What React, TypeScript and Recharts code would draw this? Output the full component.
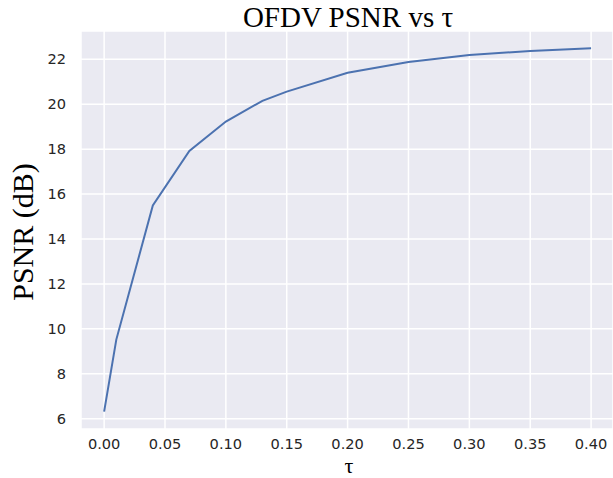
import { LineChart, Line, XAxis, YAxis, CartesianGrid } from "recharts";

const tau = [0, 0.01, 0.04, 0.07, 0.1, 0.13, 0.15, 0.2, 0.25, 0.3, 0.35, 0.4];
const psnr = [6.31, 9.52, 15.49, 17.92, 19.23, 20.15, 20.56, 21.4, 21.88, 22.19, 22.37, 22.49];
const xTicks = [0, 0.05, 0.1, 0.15, 0.2, 0.25, 0.3, 0.35, 0.4];
const yTicks = [6, 8, 10, 12, 14, 16, 18, 20, 22];

const data = tau.map((t, i) => ({ tau: t, psnr: psnr[i] }));

const tickStyle = {
  fontFamily: "DejaVu Sans",
  fontSize: 14.6,
  fill: "#262626",
};

const serif = "'Liberation Serif', 'DejaVu Serif', serif";

export default function App() {
  return (
    <div style={{ position: "absolute", left: 0, top: 0, width: 613, height: 478, background: "#fff", overflow: "hidden" }}>
      <LineChart
        width={613}
        height={478}
        data={data}
        margin={{ top: 31, right: 0, bottom: 0, left: 0 }}
      >
        <CartesianGrid stroke="#ffffff" strokeWidth={1.5} fill="#EAEAF2" />
        <XAxis
          dataKey="tau"
          type="number"
          domain={[-0.019, 0.418]}
          ticks={xTicks}
          tickFormatter={(v: number) => v.toFixed(2)}
          allowDataOverflow
          axisLine={false}
          tickLine={false}
          tickSize={6}
          tickMargin={4}
          height={49}
          tick={tickStyle}
        />
        <YAxis
          type="number"
          domain={[5.54, 23.26]}
          ticks={yTicks}
          allowDataOverflow
          axisLine={false}
          tickLine={false}
          tickSize={6}
          tickMargin={9}
          width={81}
          tick={tickStyle}
        />
        <Line
          type="linear"
          dataKey="psnr"
          stroke="#4C72B0"
          strokeWidth={2}
          dot={false}
          isAnimationActive={false}
        />
      </LineChart>
      <div
        style={{
          position: "absolute",
          left: 148,
          width: 400,
          top: 2.5,
          textAlign: "center",
          fontFamily: serif,
          fontSize: 29,
          lineHeight: "28px",
          color: "#000",
        }}
      >
        OFDV PSNR vs τ
      </div>
      <div
        style={{
          position: "absolute",
          left: 299,
          width: 100,
          top: 458.6,
          textAlign: "center",
          fontFamily: serif,
          fontSize: 22,
          lineHeight: "14px",
          color: "#000",
        }}
      >
        τ
      </div>
      <div
        style={{
          position: "absolute",
          left: 23,
          top: 232,
          transform: "translate(-50%, -50%) rotate(-90deg)",
          whiteSpace: "nowrap",
          fontFamily: serif,
          fontSize: 30,
          lineHeight: "30px",
          color: "#000",
        }}
      >
        PSNR (dB)
      </div>
    </div>
  );
}
